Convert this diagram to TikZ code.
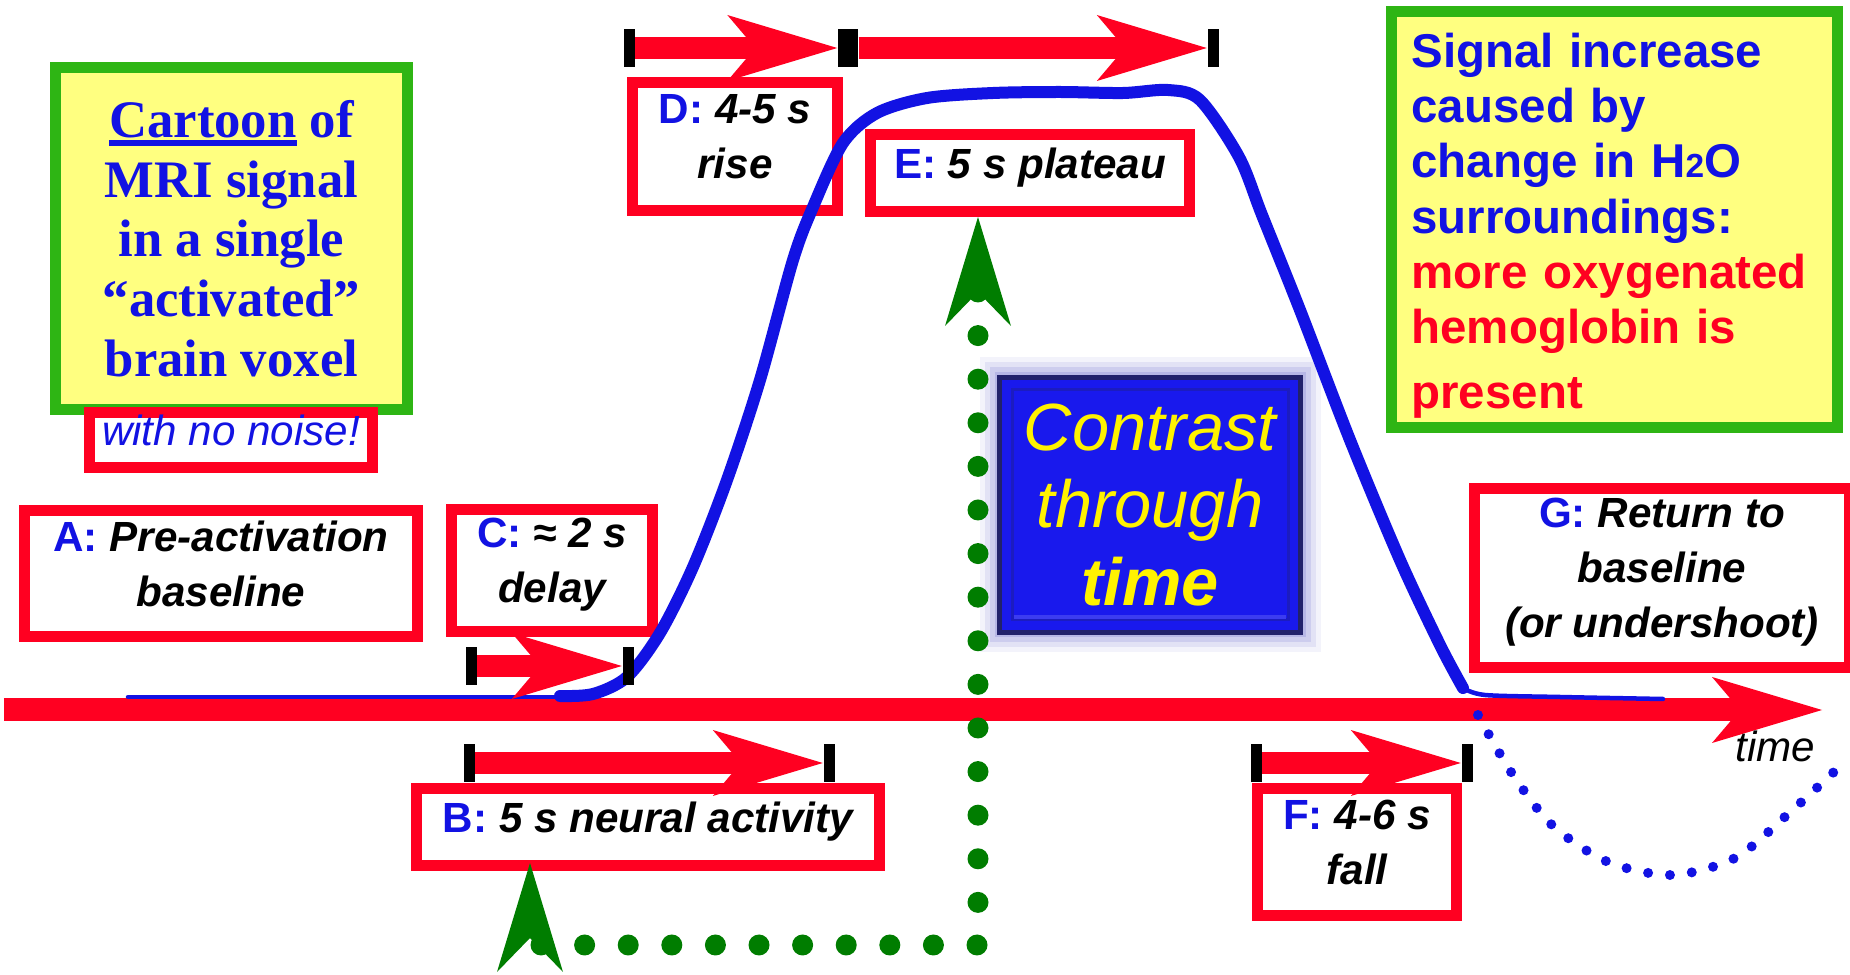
\documentclass[tikz,border=0pt]{standalone}
\usepackage{fontspec}
\setmainfont{Liberation Sans}
\newfontfamily\cartfont{Liberation Serif}
\usetikzlibrary{arrows.meta, calc}
\definecolor{boxred}{rgb}{1.00, 0.00, 0.13}
\definecolor{sigblue}{rgb}{0.07, 0.07, 0.89}
\definecolor{notegreen}{rgb}{0.18, 0.71, 0.08}
\definecolor{noteyellow}{rgb}{1.00, 1.00, 0.50}
\definecolor{dotgreen}{rgb}{0.00, 0.49, 0.00}
\definecolor{ctrblue}{rgb}{0.10, 0.10, 0.93}
\definecolor{ctrrim}{rgb}{0.13, 0.13, 0.42}
\definecolor{glowcol}{rgb}{0.55, 0.55, 0.85}
\newcommand{\tagl}[1]{\textcolor{sigblue}{\upshape #1:}}
\newcommand{\cartul}[1]{\vtop{\hbox{#1}\kern0.6pt\hrule height 1.8pt}}
\tikzset{
  notebox/.style={rectangle, draw=notegreen, fill=noteyellow, line width=1.1mm,
                  inner sep=0pt},
  lblbox/.style={rectangle, draw=boxred, line width=1.1mm, inner sep=0pt,
                 align=center, font=\fontsize{12}{15.6}\selectfont\bfseries\itshape,
                 execute at end node={\rule[-2mm]{0pt}{0pt}}},
  ctrbox/.style={rectangle, fill=ctrblue, draw=ctrrim, line width=0.5mm,
                 inner sep=0pt, align=center, text=yellow,
                 font=\fontsize{19}{22}\selectfont\itshape,
                 preaction={draw=glowcol, line width=4.0mm, opacity=0.10, rounded corners=2mm},
                 preaction={draw=glowcol, line width=3.0mm, opacity=0.16, rounded corners=1.5mm},
                 preaction={draw=glowcol, line width=2.0mm, opacity=0.24, rounded corners=1mm},
                 preaction={draw=glowcol, line width=1.0mm, opacity=0.35}},
  endbar/.style={rectangle, fill=black, inner sep=0pt,
                 minimum width=1.1mm, minimum height=3.8mm},
  span arr/.style={-{Stealth[length=11mm, width=6.6mm, inset=2.8mm, line width=0pt]},
                   boxred, line width=2.2mm},
  bold signal/.style={sigblue, line width=1.2mm, line cap=round, line join=round},
  thin signal/.style={sigblue, line width=0.45mm, line cap=round},
  green dots/.style={dotgreen, line width=2.1mm, line cap=round,
                     dash pattern=on 0pt off 4.36mm,
                     {Stealth[length=10.9mm, width=6.6mm, inset=3.4mm, line width=0pt]}-{Stealth[length=10.9mm, width=6.6mm, inset=3.4mm, line width=0pt]}},
  under dots/.style={sigblue, line width=1mm, line cap=round,
                     dash pattern=on 0pt off 2.2mm},
}

\begin{document}
\begin{tikzpicture}[x=0.1mm, y=-0.1mm]
    \fill[white] (0,0) rectangle (1850,975);
    \useasboundingbox (0,0) rectangle (1850,975);

    % notes
    \node[notebox, text=sigblue, align=center, minimum width=35.2mm, minimum height=34.2mm,
          font=\cartfont\bfseries\fontsize{15}{17}\selectfont] (cart) at (231.5,238.5)
          {\cartul{Cartoon} of\\MRI signal\\in a single\\“activated”\\brain voxel};
    \node[lblbox, fill=white, text=sigblue, font=\fontsize{12}{14}\selectfont\itshape,
          minimum width=28.3mm, minimum height=5.5mm] (noise) at (231,440) {with no noise!};
    \node[notebox, text=sigblue, text width=40.6mm, align=left, inner xsep=2mm,
          minimum width=44.6mm, minimum height=41.6mm,
          font=\fontsize{13.5}{15.7}\selectfont\bfseries,
          execute at begin node={\rule{0pt}{4.7mm}}] (sig) at (1614.5,219.5)
          {Signal increase\\caused by\\change in H{\fontsize{9.5}{10}\selectfont 2}O\\surroundings:\\\color{boxred}more oxygenated\\hemoglobin is\\[1mm]present};

    % phase labels
    \node[lblbox, minimum width=39.3mm, minimum height=12.6mm] (Abox) at (221,573.5) {\tagl{A} Pre-activation\\baseline};
    \node[lblbox, minimum width=20.1mm, minimum height=12.2mm] (Cbox) at (552,570.5) {\tagl{C} ≈ 2 s\\delay};
    \node[lblbox, minimum width=20.5mm, minimum height=12.8mm] (Dbox) at (735,146.5) {\tagl{D} 4-5 s\\rise};
    \node[lblbox, minimum width=31.9mm, minimum height=7.7mm] (Ebox) at (1030,173) {\tagl{E} 5 s plateau};
    \node[lblbox, minimum width=46.3mm, minimum height=7.7mm] (Bbox) at (648,827) {\tagl{B} 5 s neural activity};
    \node[lblbox, minimum width=19.9mm, minimum height=12.7mm] (Fbox) at (1357,852) {\tagl{F} 4-6 s\\fall};
    \node[lblbox, minimum width=37.5mm, minimum height=17.9mm] (Gbox) at (1662,578) {\tagl{G} Return to\\baseline\\(or undershoot)};

    % contrast box
    \node[ctrbox, minimum width=30.1mm, minimum height=25.5mm] (ctr) at (1150,505) {Contrast\\through\\\textbf{time}};
    \draw[ctrrim!35!ctrblue, line width=0.3mm] ($(ctr.north west)+(15,15)$) rectangle ($(ctr.south east)+(-15,-15)$);
    \draw[ctrblue!85!white, line width=0.4mm] ($(ctr.south west)+(17,-18)$) -- ($(ctr.south east)+(-17,-18)$);

    % time axis
    \coordinate (t0) at (4,710);
    \coordinate (t1) at (1822,710);
    \draw[span arr, line width=2.3mm] (t0) -- (t1);

    % signal
    \draw[thin signal] (128,697) -- (565,697);
    \draw[bold signal] plot[smooth] coordinates {(560,696) (593,694) (627,677) (660,633)
        (693,567) (727,480) (760,380) (793,260) (813,207) (843,143) (877,113) (927,98)
        (993,93) (1060,92) (1123,93) (1168,90) (1200,100) (1239,157) (1262,215) (1300,310)
        (1350,440) (1400,560) (1440,645) (1463,688)};
    \draw[thin signal] plot[smooth] coordinates {(1463,688) (1485,695) (1560,697) (1663,699)};

    % interval spans
    \node[endbar] (c0) at (471,666) {};
    \node[endbar] (c1) at (628,666) {};
    \draw[span arr] (c0) -- (c1);
    \node[endbar] (b0) at (469,763) {};
    \node[endbar] (b1) at (829,763) {};
    \draw[span arr] (b0) -- (b1);
    \node[endbar] (d0) at (629,48) {};
    \node[endbar, minimum width=2mm] (d1) at (848,48) {};
    \node[endbar] (e1) at (1213,48) {};
    \draw[span arr] (d0) -- (d1);
    \draw[span arr] (d1) -- (e1);
    \node[endbar] (f0) at (1256,763) {};
    \node[endbar] (f1) at (1467,763) {};
    \draw[span arr] (f0) -- (f1);

    % E back to B through time
    \coordinate (gl) at (530,945);
    \coordinate (gr) at (978,945);
    \draw[green dots] (Ebox.south -| gr) -- (gr) -- (gl) -- ($(Bbox.south -| gl)+(0,-8)$);

    % undershoot
    \draw[under dots] plot[smooth] coordinates {(1478,715) (1511,772) (1552,825)
        (1608,862) (1672,875) (1735,858) (1787,815) (1836,770)};
    \node[font=\fontsize{12}{14}\selectfont\itshape, anchor=base west] (tlbl) at (1723,762) {time};
\end{tikzpicture}
\end{document}
